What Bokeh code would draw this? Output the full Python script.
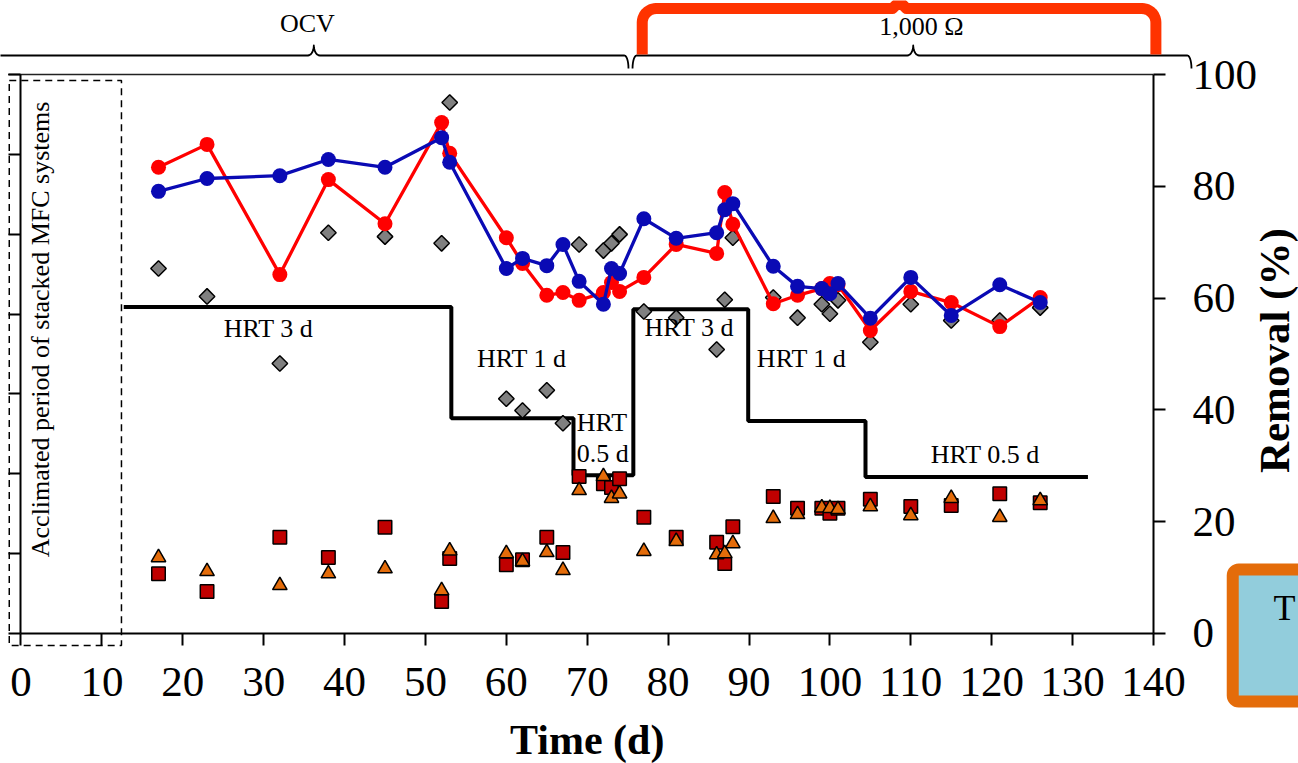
import numpy as np
from bokeh.plotting import figure
from bokeh.models import Range1d, LinearAxis, FixedTicker, Label, BoxAnnotation
from bokeh.embed import file_html
from bokeh.resources import INLINE

# ---------------- data ----------------
days = [17, 23, 32, 38, 45, 52, 53, 60, 62, 65, 67, 69, 72, 73, 74, 77, 81,
        86, 87, 88, 93, 96, 99, 100, 101, 105, 110, 115, 121, 126]
red_series = [83.4, 87.5, 64.2, 81.2, 73.3, 91.4, 85.9, 70.8, 66.2, 60.5, 61.0,
              59.6, 61.0, 62.8, 61.2, 63.7, 69.6, 68.0, 78.9, 73.2, 59.0, 60.5,
              61.7, 62.6, 62.4, 54.2, 61.2, 59.2, 54.9, 60.1]
blue_series = [79.1, 81.4, 81.9, 84.8, 83.4, 88.7, 84.3, 65.3, 67.1, 65.8, 69.6,
               63.0, 58.9, 65.3, 64.4, 74.2, 70.7, 71.7, 75.8, 76.9, 65.7, 62.1,
               61.7, 60.8, 62.6, 56.4, 63.7, 56.9, 62.4, 59.2]
gray_series = [65.3, 60.3, 48.3, 71.7, 71.0, 69.8, 95.0, 42.0, 39.9, 43.5, 37.6,
               69.6, 68.5, 69.8, 71.4, 57.6, 56.5, 50.8, 59.7, 70.8, 60.1, 56.5,
               58.9, 57.2, 59.6, 52.1, 58.9, 56.0, 56.0, 58.3]
square_series = [10.7, 7.5, 17.2, 13.6, 19.0, 5.7, 13.4, 12.3, 13.2, 17.2, 14.5,
                 28.1, 26.8, 26.1, 27.7, 20.8, 17.2, 16.3, 12.5, 19.1, 24.5, 22.4,
                 22.4, 21.5, 22.4, 24.0, 22.7, 22.9, 25.0, 23.4]
triangle_series = [13.6, 11.1, 8.6, 10.7, 11.6, 7.7, 14.8, 14.3, 12.9, 14.5, 11.3,
                   25.6, 28.1, 24.2, 25.0, 14.7, 16.5, 14.1, 14.3, 16.1, 20.6, 21.3,
                   22.5, 22.4, 22.2, 22.7, 21.1, 24.2, 20.8, 23.8]

# HRT schedule (step line): change days and level drawn on the removal scale
hrt_edges = [12.7, 53.2, 68.3, 75.7, 89.9, 104.4, 131.9]
hrt_levels = [58.4, 38.5, 28.3, 58.0, 38.0, 28.0]
hrt_texts = ["HRT 3 d", "HRT 1 d", "HRT", "0.5 d", "HRT 3 d", "HRT 1 d", "HRT 0.5 d"]
hrt_text_x = [30.6, 61.9, 68.7, 68.7, 82.6, 96.5, 119.2]
hrt_text_y = [54.6, 49.2, 37.7, 32.2, 54.7, 49.2, 32.0]
hrt_text_align = ["center", "center", "left", "left", "center", "center", "center"]

x_ticks = list(range(0, 141, 10))
y_ticks = list(range(0, 101, 20))
left_ticks = [round(100.0 * i / 7, 4) for i in range(8)]

# operating periods (days) for the braces above the plot: start, end, tip
ocv_period = (-4.0, 75.1, 36.2)
ohm_period = (75.6, 144.7, 110.3)
red_bracket = (76.8, 140.3, 108.6)

SERIF = "Liberation Serif"

W, H = 1298, 763
# frame covers the whole canvas; axes are pinned at data locations
XR = (-2.534, 157.93)
YR = (-23.26, 113.24)
p = figure(width=W, height=H, x_range=Range1d(*XR), y_range=Range1d(*YR),
           output_backend="svg", toolbar_location=None, y_axis_location="right",
           min_border=0, min_border_left=0, min_border_right=0,
           min_border_top=0, min_border_bottom=0)
if p.title is not None:
    p.title.visible = False
p.background_fill_color = "white"
p.border_fill_color = "white"
p.xgrid.visible = False
p.ygrid.visible = False
p.outline_line_color = None

DX = (XR[1] - XR[0]) / W   # data units per px
DY = (YR[1] - YR[0]) / H


def style_axis(ax, ticks, standoff, loc, bounds):
    ax.fixed_location = loc
    ax.bounds = bounds
    ax.ticker = FixedTicker(ticks=ticks)
    ax.major_tick_out = 12
    ax.major_tick_in = 0
    ax.minor_tick_out = 0
    ax.minor_tick_in = 0
    ax.axis_line_width = 2
    ax.axis_line_color = "black"
    ax.major_tick_line_width = 2
    ax.major_tick_line_color = "black"
    ax.major_label_text_font = SERIF
    ax.major_label_text_font_size = "43px"
    ax.major_label_text_color = "black"
    ax.major_label_standoff = standoff


style_axis(p.xaxis[0], x_ticks, 23, 0, (0, 140))
style_axis(p.yaxis[0], y_ticks, 27, 140, (0, 100))

la = LinearAxis()
style_axis(la, left_ticks, 0, 0, (0, 100))
la.major_label_text_color = None
la.major_label_text_alpha = 0
p.add_layout(la, "left")

# top border line of the plot area
p.line([-1.6, 140], [100, 100], line_color="#222222", line_width=1.5)

# ---------------- glyphs ----------------
sx, sy = [], []
for i, lvl in enumerate(hrt_levels):
    sx += [hrt_edges[i], hrt_edges[i + 1]]
    sy += [lvl, lvl]
p.line(sx, sy, line_color="black", line_width=4)

p.scatter(days, gray_series, marker="square", angle=np.pi / 4, size=11,
          fill_color="#808080", line_color="black", line_width=1.5)
p.line(days, red_series, line_color="#ff0000", line_width=3.3)
p.scatter(days, red_series, marker="circle", size=15, fill_color="#ff0000", line_color=None)
p.line(days, blue_series, line_color="#0a0ab4", line_width=3.3)
p.scatter(days, blue_series, marker="circle", size=15, fill_color="#0a0ab4", line_color=None)
p.scatter(days, square_series, marker="square", size=13.5,
          fill_color="#c00000", line_color="black", line_width=1.5)
p.scatter(days, triangle_series, marker="triangle", size=14.5,
          fill_color="#e46c0a", line_color="black", line_width=1.5)

for t, x, y, a in zip(hrt_texts, hrt_text_x, hrt_text_y, hrt_text_align):
    p.add_layout(Label(x=x, y=y, text=t, text_font=SERIF, text_font_size="26px",
                       text_align=a, text_baseline="middle", text_color="black"))


# ---------------- braces above the plot ----------------
def brace(x0, x1, xm, yb):
    cw, cd = 4 * DX, 13 * DY        # end hooks
    hw, ch = 6 * DX, 10 * DY         # central tip
    th = np.linspace(0, np.pi / 2, 8)
    xs, ys = [], []
    xs += list(x0 + cw * (1 - np.cos(th))); ys += list(yb - cd + cd * np.sin(th))
    xs += list(xm - hw + hw * np.sin(th)); ys += list(yb + ch * (1 - np.cos(th)))
    xs += list(xm + hw - hw * np.cos(th)); ys += list(yb + ch - ch * np.sin(th))
    xs += list(x1 - cw + cw * np.sin(th)); ys += list(yb - cd * (1 - np.cos(th)))
    return xs, ys


yb = 100 + 19 * DY
for per in (ocv_period, ohm_period):
    bx, by = brace(per[0], per[1], per[2], yb)
    p.line(bx, by, line_color="black", line_width=1.8, line_join="round")

rl, rr, rm = red_bracket
ybot, ytop = 100 + 20 * DY, 100 + 66 * DY
rx, ry = 14 * DX, 14 * DY
th = np.linspace(0, np.pi / 2, 10)
bxs = [rl] + list(rl + rx * (1 - np.cos(th)))
bys = [ybot] + list(ytop - ry + ry * np.sin(th))
bxs += [rm - 7 * DX, rm, rm + 7 * DX]
bys += [ytop, ytop + 7 * DY, ytop]
bxs += list(rr - rx + rx * np.sin(th)) + [rr]
bys += list(ytop - ry * (1 - np.cos(th))) + [ybot]
p.line(bxs, bys, line_color="#ff3300", line_width=11, line_join="round")

p.add_layout(Label(x=35.4, y=109.2, text="OCV", text_font=SERIF, text_font_size="26px",
                   text_align="center", text_baseline="middle", text_color="black"))
p.add_layout(Label(x=111.3, y=108.6, text="1,000 \u03a9", text_font=SERIF,
                   text_font_size="26px", text_align="center", text_baseline="middle",
                   text_color="black"))

# acclimation period box
p.add_layout(BoxAnnotation(left=-1.45, right=12.42, top=98.93, bottom=-2.15,
                           fill_alpha=0, fill_color=None, line_color="black",
                           line_alpha=1, line_width=1.5, line_dash="7 5"))
p.add_layout(Label(x=2.35, y=54.4, text="Acclimated period of stacked MFC systems",
                   angle=np.pi / 2, text_font=SERIF, text_font_size="26px",
                   text_align="center", text_baseline="middle", text_color="black"))

# partially visible side box
p.add_layout(BoxAnnotation(left=149.8, right=162.0, top=11.45, bottom=-12.16,
                           fill_color="#92cddc", fill_alpha=1, line_color="#e46c0a",
                           line_alpha=1, line_width=12, border_radius=6))
p.add_layout(Label(x=156.2, y=4.6, text="T", text_font=SERIF, text_font_size="36px",
                   text_align="center", text_baseline="middle", text_color="black"))

# axis titles
p.add_layout(Label(x=155.0, y=50.6, text="Removal (%)", angle=np.pi / 2,
                   text_font=SERIF, text_font_size="43px", text_font_style="bold",
                   text_align="center", text_baseline="middle", text_color="black"))
p.add_layout(Label(x=70.0, y=-19.0, text="Time (d)", text_font=SERIF,
                   text_font_size="42px", text_font_style="bold",
                   text_align="center", text_baseline="middle", text_color="black"))

open("out.html", "w").write(file_html(p, INLINE))
